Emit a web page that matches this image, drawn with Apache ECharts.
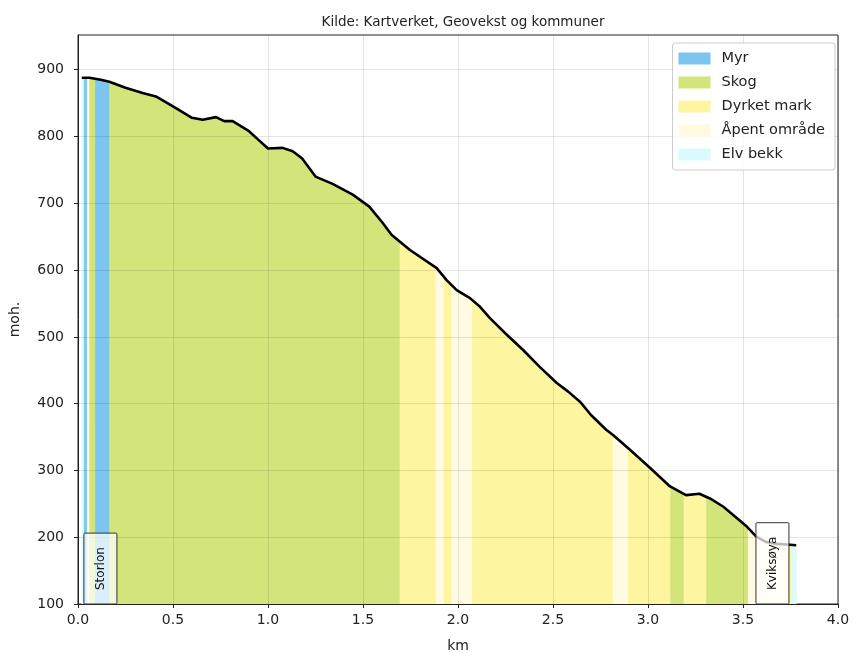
<!DOCTYPE html>
<html><head><meta charset="utf-8">
<script src="https://cdn.jsdelivr.net/npm/echarts@6/dist/echarts.min.js"></script>
<style>html,body{margin:0;padding:0;background:#fff}#c{width:854px;height:653px}</style>
</head><body><div id="c"></div>
<script>
// Elevation profile (km, m.o.h.)
const profileKm = [0.02,0.06,0.12,0.165,0.25,0.34,0.41,0.50,0.60,0.656,0.726,0.77,0.814,0.90,0.95,1.00,1.077,1.13,1.18,1.25,1.34,1.446,1.533,1.60,1.65,1.747,1.888,1.94,1.993,2.063,2.116,2.168,2.25,2.344,2.43,2.52,2.58,2.642,2.70,2.78,2.816,2.905,3.01,3.116,3.20,3.27,3.326,3.395,3.45,3.52,3.57,3.62,3.68,3.73,3.78];
const profileM  = [888,888,885,882,873,865,860,845,828,825,829,823,823,808,795,782,783,778,767,740,729,713,695,672,653,630,603,585,570,558,545,528,505,480,455,431,418,403,383,361,353,331,304,276,263,265,258,246,233,216,201,193,190,189,188];

// Land cover categories
const categories = ['Myr','Skog','Dyrket mark','Åpent område','Elv bekk'];
const categoryColors = ['#7cc5ee','#d3e57a','#fdf59f','#fffbe2','#d9fbff'];

// Land cover bands along the profile
const bandStart = [0.018,0.030,0.049,0.058,0.088,0.167,1.695,1.884,1.923,1.967,2.072,2.816,2.893,3.116,3.190,3.305,3.528,3.737,3.756];
const bandEnd   = [0.030,0.049,0.058,0.088,0.167,1.695,1.884,1.923,1.967,2.072,2.816,2.893,3.116,3.190,3.305,3.528,3.737,3.756,3.780];
const bandCategory = ['Elv bekk','Myr','Åpent område','Skog','Myr','Skog','Dyrket mark','Åpent område','Dyrket mark','Åpent område','Dyrket mark','Åpent område','Dyrket mark','Skog','Dyrket mark','Skog','Åpent område','Dyrket mark','Elv bekk'];

// Place labels
const placeNames = ['Storlon','Kviksøya'];
const placeKm = [0.118, 3.655];

const yTicks = [100,200,300,400,500,600,700,800,900];
const Y_MIN = 100, Y_MAX = 952, X_MIN = 0, X_MAX = 4;

const FONT = 'DejaVu Sans';

function profileAt(x){
  if (x <= profileKm[0]) return profileM[0];
  const n = profileKm.length;
  if (x >= profileKm[n-1]) return profileM[n-1];
  for (let i=1;i<n;i++){
    if (x <= profileKm[i]){
      const t = (x - profileKm[i-1])/(profileKm[i]-profileKm[i-1]);
      return profileM[i-1] + t*(profileM[i]-profileM[i-1]);
    }
  }
  return profileM[n-1];
}

const bandSeries = categories.map((cat, ci) => {
  const data = [];
  for (let i=0;i<bandStart.length;i++){
    if (bandCategory[i] === cat) data.push([bandStart[i], bandEnd[i]]);
  }
  return {
    type:'custom', name: cat, coordinateSystem:'cartesian2d', z:2,
    itemStyle:{color: categoryColors[ci]},
    encode:{x:[0,1]},
    data,
    renderItem(params, api){
      let x0 = Math.max(api.value(0), profileKm[0]);
      let x1 = Math.min(api.value(1), profileKm[profileKm.length-1]);
      const pts = [api.coord([x0, Y_MIN]), api.coord([x0, profileAt(x0)])];
      for (let i=0;i<profileKm.length;i++){
        if (profileKm[i] > x0 && profileKm[i] < x1) pts.push(api.coord([profileKm[i], profileM[i]]));
      }
      pts.push(api.coord([x1, profileAt(x1)]), api.coord([x1, Y_MIN]));
      return {type:'polygon', shape:{points:pts}, style:{fill: categoryColors[ci], stroke: categoryColors[ci], lineWidth:0.6}};
    }
  };
});

const measureCtx = document.createElement('canvas').getContext('2d');

const labelSeries = {
  type:'custom', coordinateSystem:'cartesian2d', z:6, silent:true,
  data: placeKm.map((k,i)=>[k, Y_MIN, i]),
  renderItem(params, api){
    const p = api.coord([api.value(0), api.value(1)]);
    const name = placeNames[api.value(2)];
    const fs = 12;
    measureCtx.font = fs + 'px "' + FONT + '"';
    const tw = measureCtx.measureText(name).width;
    const h = tw + 28, w = 33;
    return {type:'group', children:[
      {type:'rect', shape:{x:p[0]-w/2, y:p[1]-h, width:w, height:h, r:1},
       style:{fill:'rgba(255,255,255,0.72)', stroke:'#333', lineWidth:1}},
      {type:'text', x:p[0], y:p[1]-h/2, rotation:Math.PI/2,
       style:{text:name, font: fs+'px "'+FONT+'"', fill:'#111', align:'center', verticalAlign:'middle'}}
    ]};
  }
};

const chart = echarts.init(document.getElementById('c'), null, {renderer:'canvas'});
chart.setOption({
  animation:false,
  backgroundColor:'#fff',
  title:{text:'Kilde: Kartverket, Geovekst og kommuner', left:458, top:10, textAlign:'center',
    textStyle:{fontFamily:FONT, fontSize:13.5, fontWeight:'normal', color:'#222'}},
  grid:{left:78, right:16, top:35, bottom:49, show:true, borderColor:'#222', borderWidth:1, backgroundColor:'transparent',
    containLabel:false, outerBoundsMode:'none'},
  legend:{
    data: categories, orient:'vertical', right:19, top:43, icon:'rect',
    itemWidth:32, itemHeight:12, itemGap:9,
    padding:[8,10,8,6], backgroundColor:'rgba(255,255,255,0.85)', borderColor:'#ccc', borderWidth:1, borderRadius:3,
    textStyle:{fontFamily:FONT, fontSize:14.5, color:'#222', padding:[0,0,0,6]},
    selectedMode:false
  },
  xAxis:{type:'value', min:X_MIN, max:X_MAX, interval:0.5, z:3,
    name:'km', nameLocation:'middle', nameGap:35, nameTextStyle:{fontFamily:FONT, fontSize:14, color:'#222'},
    axisLine:{show:true, lineStyle:{color:'#222', width:1}},
    axisTick:{show:true, length:4, lineStyle:{color:'#222'}},
    axisLabel:{fontFamily:FONT, fontSize:14, color:'#222', margin:9, formatter:v=>v.toFixed(1)},
    splitLine:{show:true, lineStyle:{color:'rgba(0,0,0,0.1)', width:1}}
  },
  yAxis:{type:'value', min:Y_MIN, max:Y_MAX, interval:100, z:3,
    name:'moh.', nameLocation:'middle', nameGap:56, nameRotate:90, nameTextStyle:{fontFamily:FONT, fontSize:14, color:'#222'},
    axisLine:{show:true, lineStyle:{color:'#222', width:1}},
    axisTick:{show:true, length:4, lineStyle:{color:'#222'}, customValues:yTicks},
    axisLabel:{fontFamily:FONT, fontSize:14, color:'#222', margin:14, customValues:yTicks},
    splitLine:{show:true, lineStyle:{color:'rgba(0,0,0,0.1)', width:1}}
  },
  series:[
    ...bandSeries,
    {type:'line', name:'profil', z:4, data: profileKm.map((k,i)=>[k, profileM[i]]), showSymbol:false, silent:true,
     lineStyle:{color:'#000', width:2.6}},
    labelSeries
  ]
});
</script></body></html>
